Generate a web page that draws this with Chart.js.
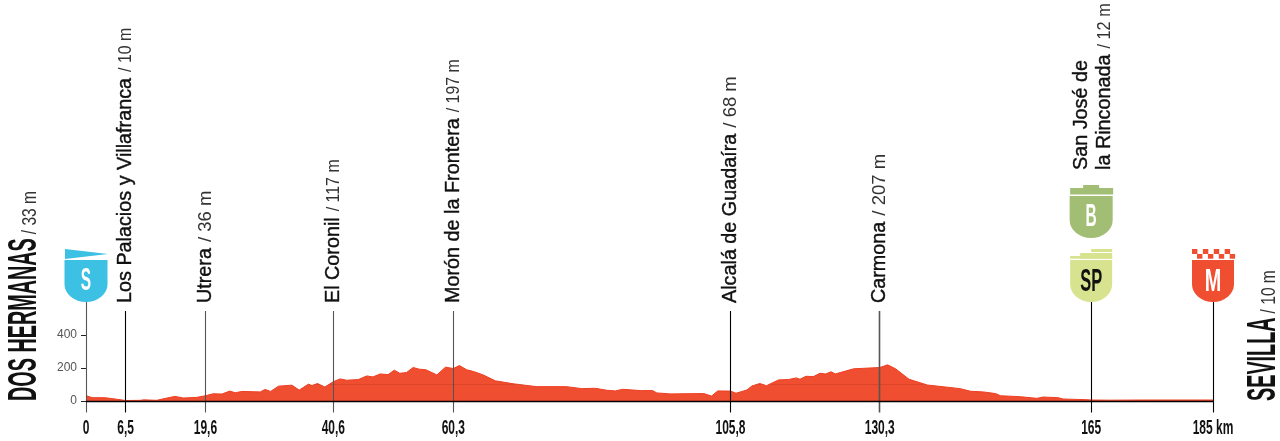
<!DOCTYPE html>
<html lang="es">
<head>
<meta charset="UTF-8">
<title>Perfil de etapa</title>
<style>
  html, body { margin: 0; padding: 0; background: #fff; }
  .chartBox { width: 1280px; height: 441px; }
</style>
</head>
<body>
<div class="chartBox"><canvas id="myChart"></canvas></div>
<script src="https://cdn.jsdelivr.net/npm/chart.js@4"></script>
<script>
// profile: km and metres
const profileKm = [0,1,3.1,4.8,6.5,8.9,9.5,11.6,13.3,14.6,16,18.2,19.6,20.9,22.3,23.6,24.5,25.6,28.6,29.4,30.3,31.6,33.8,35,36.5,37.1,38,39.2,40.6,41.7,42.8,44.7,46.1,47.1,48.3,49.6,50.6,51.5,52.6,53.7,54.7,55.8,57.6,59,60.3,61.3,62.5,63.6,65.2,67.2,70.2,74,78.9,81.4,83.6,85.5,86.9,88.1,91,93,93.7,95.9,101.4,102.7,103.7,105.8,106.7,108.5,109.3,110.6,111.7,113.7,115.3,116.6,117.2,118.2,119.4,120.5,121.4,122.3,123,126,130.3,131.6,132.9,135.1,138.1,143.5,145.2,147.3,149.3,150.1,153.4,156.1,157.1,159.6,160.4,164.3,165,168.1,173,185];
const profileM = [33,20,20,12,3,4,7,4,18,28,18,22,32,44,42,60,50,58,55,70,58,90,96,66,102,94,106,85,117,134,126,130,152,146,164,160,187,168,172,203,193,189,158,205,197,215,189,179,158,122,104,87,87,75,77,65,61,71,63,63,49,43,45,30,61,60,47,67,91,106,93,128,130,140,132,150,148,168,164,177,164,195,203,219,195,132,97,75,59,55,45,32,26,16,24,20,12,8,6,5,6,6];

const tickKm = [0,6.5,19.6,40.6,60.3,105.8,130.3,165,185];
const tickKmLabels = ['0','6,5','19,6','40,6','60,3','105,8','130,3','165','185 km'];
const elevationTicks = [0,100,200,300,400];
const elevationLabels = ['0','','200','','400'];

const placeKm = [6.5,19.6,40.6,60.3,105.8,130.3];
const placeNames = ['Los Palacios y Villafranca','Utrera','El Coronil','Morón de la Frontera','Alcalá de Guadaíra','Carmona'];
const placeHeights = ['/ 10 m','/ 36 m','/ 117 m','/ 197 m','/ 68 m','/ 207 m'];

const RED = '#f04e30';
const NAME_FONT = '19.8px "Liberation Sans"';
const HEIGHT_FONT = '18.5px "Liberation Sans"';

// the 1 is narrow in the original face
const heightSx = t => t.includes('1') ? 0.86 : 1;

function shield(ctx, x, top, w, h, color) {
  const r = w / 2, ry = h * 0.42;
  ctx.fillStyle = color;
  ctx.beginPath();
  ctx.moveTo(x - r, top);
  ctx.lineTo(x + r, top);
  ctx.lineTo(x + r, top + h - ry);
  ctx.ellipse(x, top + h - ry, r, ry, 0, 0, Math.PI);
  ctx.closePath();
  ctx.fill();
}

function condensedText(ctx, txt, x, y, font, sx, color, align) {
  ctx.save();
  ctx.translate(x, y);
  ctx.scale(sx, 1);
  ctx.font = font;
  ctx.fillStyle = color;
  ctx.textAlign = align || 'center';
  ctx.textBaseline = 'alphabetic';
  ctx.fillText(txt, 0, 0);
  ctx.restore();
}

function rotatedText(ctx, x, y, parts) {
  // parts run upward from y, baseline on x
  ctx.save();
  ctx.translate(x, y);
  ctx.rotate(-Math.PI / 2);
  ctx.textAlign = 'left';
  ctx.textBaseline = 'alphabetic';
  let pos = 0;
  parts.forEach(p => {
    ctx.save();
    ctx.translate(pos, 0);
    ctx.scale(p.sx || 1, 1);
    ctx.font = p.font;
    ctx.fillStyle = p.color || '#111';
    ctx.fillText(p.text, 0, 0);
    if (p.stroke) { ctx.strokeStyle = '#111'; ctx.lineWidth = p.stroke; ctx.strokeText(p.text, 0, 0); }
    pos += ctx.measureText(p.text).width * (p.sx || 1) + (p.gap || 0);
    ctx.restore();
  });
  ctx.restore();
}

const profileDecor = {
  id: 'profileDecor',
  afterDatasetsDraw(chart) {
    const ctx = chart.ctx, xs = chart.scales.x, ys = chart.scales.y;
    const base = ys.getPixelForValue(0);
    ctx.save();

    // faint 100 m line, only where the fill is
    ctx.globalCompositeOperation = 'source-atop';
    ctx.strokeStyle = '#dc4529';
    ctx.lineWidth = 1;
    ctx.beginPath();
    ctx.moveTo(xs.left, ys.getPixelForValue(100));
    ctx.lineTo(xs.right, ys.getPixelForValue(100));
    ctx.stroke();
    ctx.globalCompositeOperation = 'source-over';

    // pins
    tickKm.forEach(km => {
      const x = Math.floor(xs.getPixelForValue(km)) + 0.5;
      const top = (km === 0 || km === 165 || km === 185) ? 301 : 311;
      ctx.strokeStyle = (km === 0 || km === 19.6 || km === 40.6 || km === 60.3 || km === 130.3) ? '#555' : '#000';
      ctx.lineWidth = (km === 130.3) ? 1.6 : 1.1;
      ctx.beginPath();
      ctx.moveTo(x, top);
      ctx.lineTo(x, 412.5);
      ctx.stroke();
    });

    // baseline
    ctx.strokeStyle = '#000';
    ctx.lineWidth = 1.3;
    ctx.beginPath();
    ctx.moveTo(xs.getPixelForValue(0), base + 0.5);
    ctx.lineTo(xs.getPixelForValue(185), base + 0.5);
    ctx.stroke();

    // km labels under the pins
    tickKm.forEach((km, i) => {
      condensedText(ctx, tickKmLabels[i], xs.getPixelForValue(km), 434, 'bold 20px "Liberation Sans"', 0.6, '#111');
    });

    // place names
    placeKm.forEach((km, i) => {
      rotatedText(ctx, xs.getPixelForValue(km) + 5.5, 303, [
        { text: placeNames[i], font: NAME_FONT, stroke: 0.4, gap: 6 },
        { text: placeHeights[i], font: HEIGHT_FONT, sx: heightSx(placeHeights[i]), color: '#333' }
      ]);
    });

    // San José de / la Rinconada, two lines
    const sjX = xs.getPixelForValue(165);
    rotatedText(ctx, sjX - 4, 170, [{ text: 'San José de', font: NAME_FONT, stroke: 0.4 }]);
    rotatedText(ctx, sjX + 19, 170, [
      { text: 'la Rinconada', font: NAME_FONT, stroke: 0.4, gap: 6 },
      { text: '/ 12 m', font: HEIGHT_FONT, sx: 0.88, color: '#333' }
    ]);

    // start and finish names
    rotatedText(ctx, 36, 401, [
      { text: 'DOS HERMANAS', font: 'bold 40px "Liberation Sans"', sx: 0.495, gap: 4 },
      { text: '/ 33 m', font: '21px "Liberation Sans"', sx: 0.74, color: '#333' }
    ]);
    rotatedText(ctx, 1275, 401, [
      { text: 'SEVILLA', font: 'bold 40px "Liberation Sans"', sx: 0.495, gap: 4 },
      { text: '/ 10 m', font: '21px "Liberation Sans"', sx: 0.74, color: '#333' }
    ]);

    const LETTER = 'bold 31px "Liberation Sans"';

    // start badge
    const sx = xs.getPixelForValue(0);
    ctx.fillStyle = '#3cc1e4';
    ctx.beginPath();
    ctx.moveTo(sx - 21, 249);
    ctx.lineTo(sx + 22, 254);
    ctx.lineTo(sx - 21, 259);
    ctx.closePath();
    ctx.fill();
    shield(ctx, sx, 260, 43, 42, '#3cc1e4');
    condensedText(ctx, 'S', sx, 290, LETTER, 0.5, '#fff');

    // bonus badge
    const bx = xs.getPixelForValue(165);
    ctx.fillStyle = '#a2bd74';
    ctx.fillRect(bx - 8, 185, 16, 4);
    ctx.fillRect(bx - 21, 188, 43, 6.5);
    shield(ctx, bx, 196, 43, 42, '#a2bd74');
    condensedText(ctx, 'B', bx, 226, LETTER, 0.5, '#fff');

    // sprint badge
    ctx.fillStyle = '#d8e38f';
    ctx.fillRect(bx, 249, 21, 3);
    ctx.fillRect(bx - 11, 253, 32, 5.7);
    ctx.fillRect(bx - 21, 256, 42, 2.7);
    shield(ctx, bx, 260, 42, 42, '#d8e38f');
    condensedText(ctx, 'SP', bx, 291, LETTER, 0.53, '#111');

    // finish badge with its chequered band
    const mx = xs.getPixelForValue(185);
    ctx.fillStyle = RED;
    for (let i = 0; i < 4; i++) ctx.fillRect(mx - 21 + i * 10.9, 249, 5.4, 5);
    for (let i = 0; i < 4; i++) ctx.fillRect(mx - 16 + i * 10.9, 254, 5.4, 4.7);
    shield(ctx, mx, 260, 42, 42, RED);
    condensedText(ctx, 'M', mx, 291, LETTER, 0.64, '#fff');

    ctx.restore();
  }
};

new Chart(document.getElementById('myChart'), {
  type: 'line',
  data: {
    datasets: [{
      data: profileKm.map((km, i) => ({ x: km, y: profileM[i] })),
      fill: 'origin',
      backgroundColor: RED,
      borderColor: '#ee3e22',
      borderWidth: 1,
      pointRadius: 0,
      tension: 0
    }]
  },
  plugins: [profileDecor],
  options: {
    responsive: true,
    maintainAspectRatio: false,
    animation: false,
    layout: { padding: { top: 335, right: 67, left: 0, bottom: 0 } },
    plugins: { legend: { display: false }, tooltip: { enabled: false } },
    scales: {
      x: {
        type: 'linear',
        min: 0,
        max: 185,
        border: { display: false },
        grid: { display: false },
        afterFit: s => { s.height = 40; },
        ticks: { display: false }
      },
      y: {
        min: 0,
        max: 400,
        border: { display: false },
        afterFit: s => { s.width = 86; },
        afterBuildTicks: s => { s.ticks = elevationTicks.map(v => ({ value: v })); },
        grid: { drawOnChartArea: false, drawTicks: true, tickLength: 5, color: '#222', lineWidth: 1 },
        ticks: {
          padding: 4,
          color: '#555',
          font: { family: '"Liberation Sans"', size: 12 },
          callback: v => elevationLabels[elevationTicks.indexOf(v)]
        }
      }
    }
  }
});
</script>
</body>
</html>
